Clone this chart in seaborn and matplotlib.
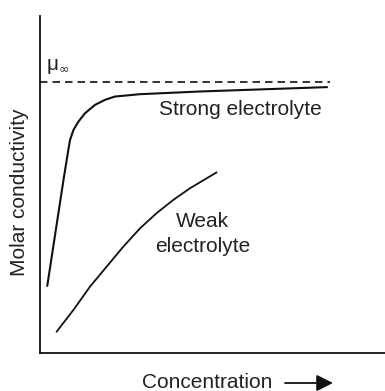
import matplotlib
matplotlib.use("Agg")
import matplotlib.pyplot as plt
from matplotlib.patches import FancyArrowPatch
import seaborn as sns
import pandas as pd

# Concentration (arbitrary units) and molar conductivity (arbitrary units)
strong_conc = [2.1, 6.8, 8.2, 8.7, 9.7, 11.1, 13.0, 15.9, 18.8, 21.7, 29.0, 46.4, 83.2]
strong_cond = [19.9, 51.3, 60.2, 63.2, 66.2, 68.6, 71.1, 73.6, 75.1, 76.1, 76.8, 77.6, 78.9]

weak_conc = [4.8, 9.7, 14.5, 19.3, 24.1, 29.0, 33.8, 38.6, 43.5, 51.2]
weak_cond = [6.3, 12.8, 19.7, 25.6, 31.5, 37.0, 41.5, 45.4, 48.9, 53.6]

limit_conc = [0.0, 84.1]
limit_cond = [80.4, 80.4]

sns.set_style("white")
plt.rcParams["font.family"] = ["Liberation Sans", "DejaVu Sans"]
plt.rcParams["lines.solid_joinstyle"] = "round"

W, H = 385, 391
fig = plt.figure(figsize=(W / 100, H / 100), dpi=100)
ax = fig.add_axes([40 / W, 38 / H, 345 / W, 337 / H])

strong = pd.DataFrame({"c": strong_conc, "m": strong_cond})
weak = pd.DataFrame({"c": weak_conc, "m": weak_cond})
limit = pd.DataFrame({"c": limit_conc, "m": limit_cond})

sns.lineplot(data=strong, x="c", y="m", ax=ax, color="#111111", lw=1.5, sort=False)
sns.lineplot(data=weak, x="c", y="m", ax=ax, color="#111111", lw=1.3, sort=False)
sns.lineplot(data=limit, x="c", y="m", ax=ax, color="#111111", lw=1.2,
             linestyle=(0, (4.5, 3)), sort=False)

ax.set_xlim(0, 100)
ax.set_ylim(0, 100)
ax.set_xticks([])
ax.set_yticks([])
for side in ("top", "right"):
    ax.spines[side].set_visible(False)
for side in ("left", "bottom"):
    ax.spines[side].set_color("#111111")
    ax.spines[side].set_linewidth(1.3)
ax.set_xlabel("")
ax.set_ylabel("")

txt = "#222222"
fs = 15

# limiting molar conductivity symbol
fig.text(47 / W, 1 - 70 / H, "μ", fontsize=15, color=txt, ha="left", va="baseline")
fig.text(58.5 / W, 1 - 72.5 / H, "∞", fontsize=9, color=txt, ha="left", va="baseline",
         fontfamily="DejaVu Sans")

ax.text(58.1, 72.4, "Strong electrolyte", fontsize=fs, color=txt, ha="center", va="center")
ax.text(47.2, 38.9, "Weak", fontsize=fs, color=txt, ha="center", va="center")
ax.text(47.2, 31.7, "electrolyte", fontsize=fs, color=txt, ha="center", va="center")

fig.text(20 / W, 1 - 192 / H, "Molar conductivity", rotation=90,
         fontsize=fs, color=txt, ha="center", va="center")
fig.text(207.5 / W, 1 - 382 / H, "Concentration", fontsize=fs, color=txt,
         ha="center", va="center")
fig.add_artist(FancyArrowPatch(
    (285 / W, 1 - 383 / H), (333 / W, 1 - 383 / H),
    transform=fig.transFigure, arrowstyle="-|>,head_length=10,head_width=5",
    color="#111111", lw=1.3, mutation_scale=1.0, shrinkA=0, shrinkB=0))

fig.savefig("out.png", dpi=100)
